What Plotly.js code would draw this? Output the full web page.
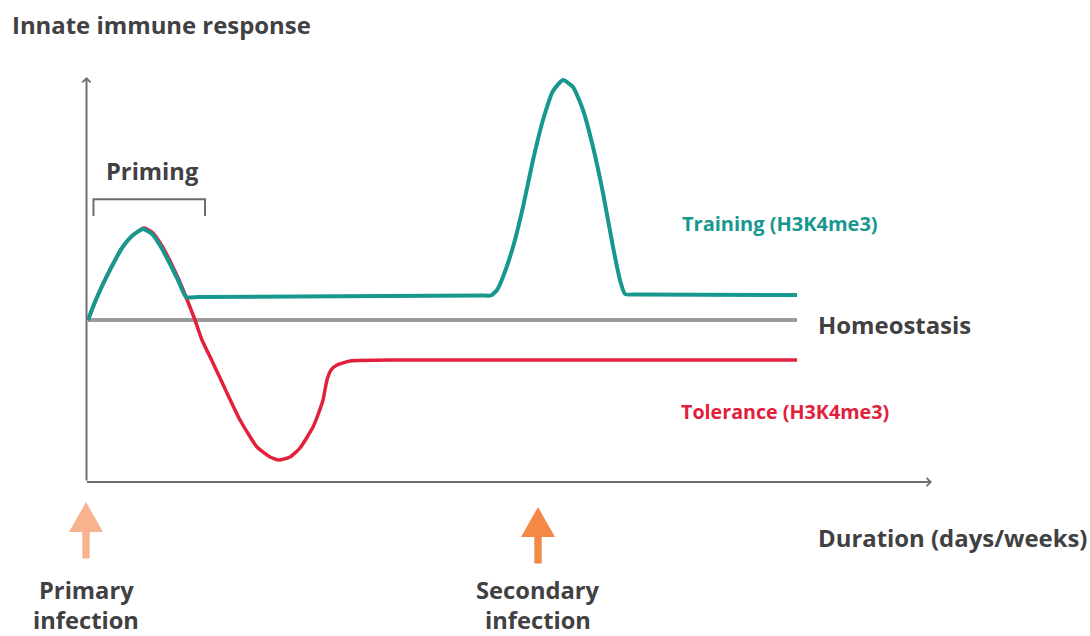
<!DOCTYPE html>
<html>
<head>
<meta charset="utf-8">
<script src="https://cdn.plot.ly/plotly-3.0.1.min.js"></script>
<style>html,body{margin:0;padding:0;background:#fff;}#chart{width:1090px;height:636px;}</style>
</head>
<body>
<div id="chart"></div>
<script>
// Schematic data (arbitrary units: time on x, response relative to homeostasis on y)
var trainingTime = [0, 0.7, 1.5, 2.4, 3.4, 4.4, 5.5, 6.4, 7.3, 8.2, 9.0, 9.8, 11.0, 39.3, 40.3, 40.9, 41.5, 42.5, 43.5, 44.5, 45.5, 46.5, 47.5, 48.5, 49.5, 50.5, 51.5, 52.5, 53.2, 53.7, 55.0, 70.9];
var trainingResp = [0, 1.8, 3.6, 5.4, 7.2, 8.4, 9.1, 8.6, 7.3, 5.6, 4.0, 2.3, 2.3, 2.45, 2.45, 3.0, 4.3, 7.3, 11.3, 16.0, 20.0, 22.9, 24.0, 23.3, 21.0, 17.3, 12.7, 7.3, 4.0, 2.6, 2.55, 2.5];
var toleranceTime = [0, 0.7, 1.5, 2.4, 3.4, 4.4, 5.6, 6.5, 7.4, 8.3, 9.1, 9.8, 10.7, 11.4, 12.5, 13.9, 15.2, 16.9, 18.2, 19.1, 20.2, 21.2, 22.5, 23.1, 23.5, 23.9, 24.3, 24.9, 26.2, 31.2, 70.9];
var toleranceResp = [0, 1.8, 3.6, 5.4, 7.2, 8.4, 9.2, 8.7, 7.4, 5.7, 4.0, 2.3, 0, -2.0, -4.3, -7.3, -10.0, -12.7, -13.7, -14.0, -13.7, -12.8, -10.7, -9.2, -8.0, -6.0, -5.0, -4.5, -4.1, -4.0, -4.0];
var homeostasisTime = [0, 70.9];
var homeostasisResp = [0, 0];
var primingWindow = [0.55, 11.7];
var infectionTimes = [-0.2, 45.0];
var infectionLabels = [["Primary", "infection"], ["Secondary", "infection"]];

var TEAL = "#17988f", RED = "#e2203c", GREY = "#9b9b9b", AXIS = "#6d6e71", TEXT = "#414042";
var FONT = "Open Sans";

var traces = [
  {x: homeostasisTime, y: homeostasisResp, mode: "lines", line: {color: GREY, width: 4}, hoverinfo: "skip"},
  {x: toleranceTime, y: toleranceResp, mode: "lines", line: {color: RED, width: 3.5, shape: "spline", smoothing: 0.5}, hoverinfo: "skip"},
  {x: trainingTime, y: trainingResp, mode: "lines", line: {color: TEAL, width: 4, shape: "spline", smoothing: 0.5}, hoverinfo: "skip"}
];

var axisX0 = -0.15, axisY0 = -16.2;
var shapes = [];
// priming bracket
shapes.push({type: "path", xref: "x", yref: "y",
  path: "M" + primingWindow[0] + ",10.4 L" + primingWindow[0] + ",12.07 L" + primingWindow[1] + ",12.07 L" + primingWindow[1] + ",10.4",
  line: {color: AXIS, width: 2}});
// infection arrows
var arrowTips = [-18.2, -18.7];
var arrowColors = ["#f8b38e", "#f38847"];
infectionTimes.forEach(function (t, i) {
  var tip = arrowTips[i], base = tip - 3.0, end = tip - 5.65, hw = 1.7, sw = 0.37;
  var p = "M" + t + "," + tip + " L" + (t + hw) + "," + base + " L" + (t + sw) + "," + base +
          " L" + (t + sw) + "," + end + " L" + (t - sw) + "," + end + " L" + (t - sw) + "," + base +
          " L" + (t - hw) + "," + base + " Z";
  shapes.push({type: "path", xref: "x", yref: "y", path: p, fillcolor: arrowColors[i], line: {width: 0}});
});

function label(x, y, text, size, color, anchor) {
  return {x: x, y: y, xref: "x", yref: "y", xanchor: anchor || "left", yanchor: "middle", showarrow: false,
    text: text, font: {family: FONT, size: size, color: color, weight: 700}};
}

var annotations = [
  // axes with arrowheads
  {x: axisX0, y: 24.3, ax: axisX0, ay: axisY0, axref: "x", ayref: "y", xref: "x", yref: "y", text: "", showarrow: true, arrowhead: 4, arrowsize: 0.8, arrowwidth: 2, arrowcolor: AXIS},
  {x: 84.4, y: axisY0, ax: axisX0 - 0.1, ay: axisY0, axref: "x", ayref: "y", xref: "x", yref: "y", text: "", showarrow: true, arrowhead: 4, arrowsize: 0.8, arrowwidth: 2, arrowcolor: AXIS},
  label(-7.8, 29.6, "Innate immune response", 23.9, TEXT),
  label(1.6, 14.9, "Priming", 23.7, TEXT),
  label(59.2, 9.7, "Training (H3K4me3)", 20, TEAL),
  label(72.8, -0.4, "Homeostasis", 23.9, TEXT),
  label(59.1, -9.1, "Tolerance (H3K4me3)", 19.7, RED),
  label(72.8, -21.7, "Duration (days/weeks)", 23.9, TEXT)
];
infectionTimes.forEach(function (t, i) {
  annotations.push(label(t, -27.0, infectionLabels[i][0], 23.7, TEXT, "center"));
  annotations.push(label(t, -29.95, infectionLabels[i][1], 23.7, TEXT, "center"));
});

var layout = {
  width: 1090, height: 636,
  margin: {l: 0, r: 0, t: 0, b: 0},
  paper_bgcolor: "#ffffff", plot_bgcolor: "#ffffff",
  showlegend: false,
  xaxis: {range: [-8.8, 100.2], visible: false, fixedrange: true},
  yaxis: {range: [-31.6, 32.0], visible: false, fixedrange: true},
  shapes: shapes,
  annotations: annotations
};
Plotly.newPlot("chart", traces, layout, {displayModeBar: false, staticPlot: true});
</script>
</body>
</html>
